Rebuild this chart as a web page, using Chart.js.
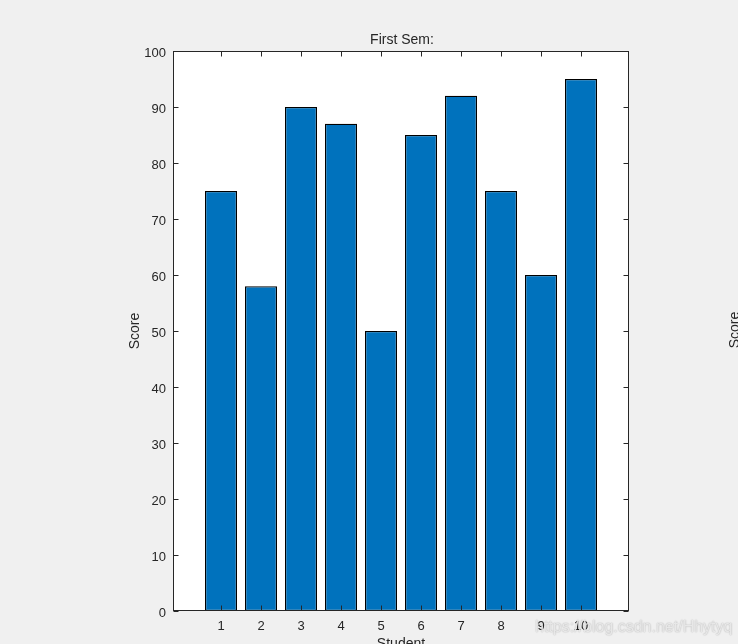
<!DOCTYPE html>
<html>
<head>
<meta charset="utf-8">
<script src="https://cdn.jsdelivr.net/npm/chart.js@4.4.1/dist/chart.umd.min.js"></script>
<style>
  html, body { margin: 0; padding: 0; background: #f0f0f0; }
  #wrap { width: 738px; height: 644px; }
</style>
</head>
<body>
<div id="wrap"><canvas id="c" width="738" height="644"></canvas></div>
<script>
const students = [1, 2, 3, 4, 5, 6, 7, 8, 9, 10];
const scores = [75, 58, 90, 87, 50, 85, 92, 75, 60, 95];
const yTicks = [0, 10, 20, 30, 40, 50, 60, 70, 80, 90, 100];
const titleText = 'First Sem:';
const xLabel = 'Student';
const yLabel = 'Score';
const watermark = 'https://blog.csdn.net/Hhytyq';

const FONT = '"Liberation Sans", Arial, Helvetica, sans-serif';
const TXT = '#262626';

const matlabAxes = {
  id: 'matlabAxes',
  beforeDraw(chart) {
    const { ctx, chartArea: a } = chart;
    ctx.save();
    ctx.fillStyle = '#f0f0f0';
    ctx.fillRect(0, 0, chart.width, chart.height);
    ctx.fillStyle = '#ffffff';
    ctx.fillRect(a.left, a.top, a.right - a.left, a.bottom - a.top);
    ctx.restore();
  },
  afterDatasetsDraw(chart) {
    const { ctx, chartArea: a, scales } = chart;
    const L = Math.round(a.left) + 0.5, R = Math.round(a.right) - 0.5;
    const T = Math.round(a.top) + 0.5, B = Math.round(a.bottom) - 0.5;
    ctx.save();
    ctx.strokeStyle = TXT;
    ctx.lineWidth = 1;
    const tl = 5;
    ctx.beginPath();
    scales.x.ticks.forEach(t => {
      const px = Math.round(scales.x.getPixelForValue(t.value)) + 0.5;
      ctx.moveTo(px, B); ctx.lineTo(px, B - tl);
      ctx.moveTo(px, T); ctx.lineTo(px, T + tl);
    });
    scales.y.ticks.forEach(t => {
      const py = Math.round(scales.y.getPixelForValue(t.value)) + 0.5;
      ctx.moveTo(L, py); ctx.lineTo(L + tl, py);
      ctx.moveTo(R, py); ctx.lineTo(R - tl, py);
    });
    ctx.stroke();
    ctx.strokeRect(L, T, R - L, B - T);

    ctx.fillStyle = TXT;
    ctx.font = '14px ' + FONT;
    ctx.textAlign = 'center';
    ctx.textBaseline = 'alphabetic';
    const cx = (a.left + a.right) / 2;
    ctx.fillText(titleText, cx + 1, 43.5);
    ctx.textBaseline = 'top';
    ctx.fillText(xLabel, cx, 637.5);

    ctx.textBaseline = 'alphabetic';
    ctx.save();
    ctx.translate(138.5, (a.top + a.bottom) / 2);
    ctx.rotate(-Math.PI / 2);
    ctx.fillText(yLabel, 0, 0);
    ctx.restore();
    ctx.save();
    ctx.translate(738.5, (a.top + a.bottom) / 2 - 1);
    ctx.rotate(-Math.PI / 2);
    ctx.fillText(yLabel, 0, 0);
    ctx.restore();

    ctx.font = '16px ' + FONT;
    ctx.textAlign = 'left';
    ctx.textBaseline = 'alphabetic';
    ctx.shadowColor = 'rgba(0,0,0,0.35)';
    ctx.shadowBlur = 1.5;
    ctx.fillStyle = 'rgba(235,235,235,0.92)';
    ctx.fillText(watermark, 535, 632);
    ctx.restore();
  }
};

new Chart(document.getElementById('c'), {
  type: 'bar',
  data: {
    datasets: [{
      data: students.map((s, i) => ({ x: s, y: scores[i] })),
      backgroundColor: '#0072BD',
      borderColor: '#000000',
      borderWidth: 1.3,
      borderSkipped: false,
      barPercentage: 0.8,
      categoryPercentage: 1.0
    }]
  },
  options: {
    responsive: false,
    animation: false,
    devicePixelRatio: 1,
    layout: { padding: { left: 0, top: 51, right: 109, bottom: 0 } },
    plugins: { legend: { display: false }, title: { display: false }, tooltip: { enabled: false } },
    scales: {
      x: {
        type: 'linear',
        offset: false,
        min: -0.2,
        max: 11.2,
        afterBuildTicks: s => { s.ticks = students.map(v => ({ value: v })); },
        afterFit: s => { s.height = 33; },
        grid: { display: false, drawTicks: false, offset: false },
        border: { display: false },
        ticks: { padding: 8, color: TXT, font: { family: FONT, size: 13 }, maxRotation: 0, autoSkip: false,
                 callback: v => String(v) }
      },
      y: {
        type: 'linear',
        min: 0,
        max: 100,
        afterBuildTicks: s => { s.ticks = yTicks.map(v => ({ value: v })); },
        afterFit: s => { s.width = 173; },
        grid: { display: false, drawTicks: false },
        border: { display: false },
        ticks: { padding: 7, labelOffset: 2, color: TXT, font: { family: FONT, size: 13 }, callback: v => String(v) }
      }
    }
  },
  plugins: [matlabAxes]
});
</script>
</body>
</html>
